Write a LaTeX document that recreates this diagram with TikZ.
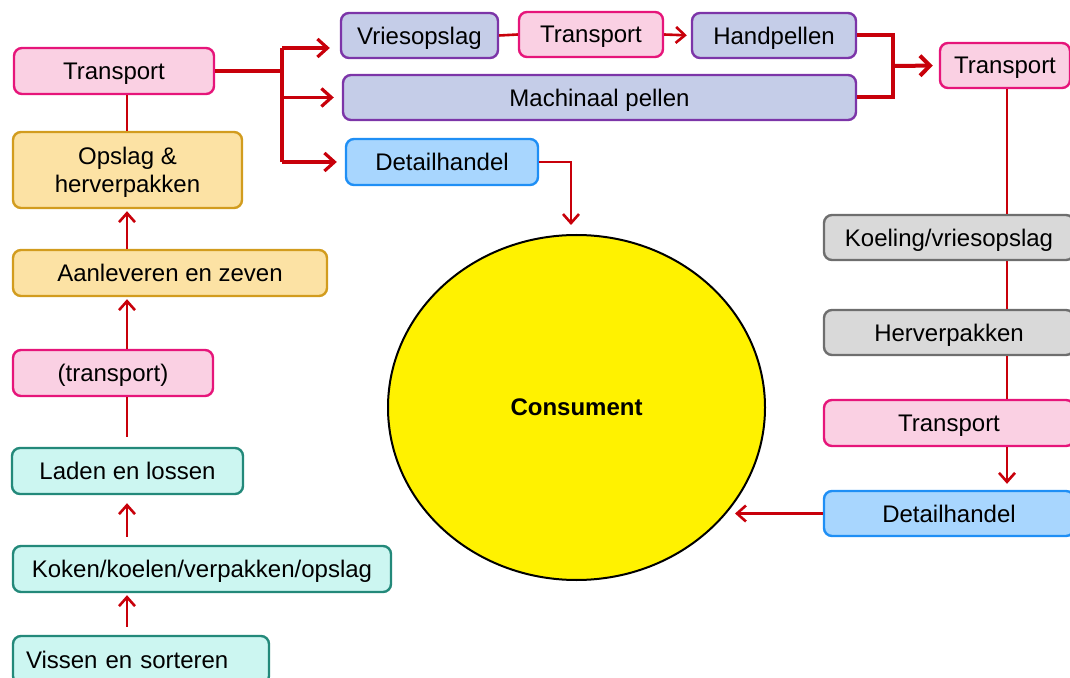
\documentclass[tikz,border=0pt]{standalone}
\usepackage{fontspec}
\setmainfont{Liberation Sans}
\usetikzlibrary{arrows.meta,shapes.geometric}
\definecolor{pinkF}{HTML}{FAD0E3}
\definecolor{pinkB}{HTML}{E6157A}
\definecolor{orF}{HTML}{FCE2A4}
\definecolor{orB}{HTML}{D29C1E}
\definecolor{lavF}{HTML}{C5CDE8}
\definecolor{lavB}{HTML}{7C35A8}
\definecolor{bluF}{HTML}{A8D6FE}
\definecolor{bluB}{HTML}{1F8FF5}
\definecolor{grF}{HTML}{D9D9D9}
\definecolor{grB}{HTML}{6E6E6E}
\definecolor{tlF}{HTML}{CCF6F1}
\definecolor{tlB}{HTML}{23897A}
\definecolor{arrowred}{HTML}{C8000A}
\begin{document}
\begin{tikzpicture}[x=0.5pt,y=-0.5pt,
  font=\fontsize{12}{14}\selectfont,
  box/.style={draw, rounded corners=4pt, line width=1.2pt, inner sep=0pt, align=center, minimum height=23pt, text depth=0pt},
  pinkbox/.style={box, draw=pinkB, fill=pinkF},
  orbox/.style={box, draw=orB, fill=orF},
  lavbox/.style={box, draw=lavB, fill=lavF},
  blubox/.style={box, draw=bluB, fill=bluF},
  grbox/.style={box, draw=grB, fill=grF},
  tlbox/.style={box, draw=tlB, fill=tlF},
  conn/.style={draw=arrowred, line width=1.3pt},
  arr/.style={conn, -{Straight Barb[length=4.5pt,width=8pt]}},
  thickconn/.style={draw=arrowred, line width=2pt},
  arr2/.style={draw=arrowred, line width=1.6pt, -{Straight Barb[length=5pt,width=9pt]}},
  thickarr/.style={thickconn, -{Straight Barb[length=5pt,width=10pt]}}
]
\useasboundingbox (0,0) rectangle (1070,678);
\clip (0,0) rectangle (1070,678);

% left column
\node[pinkbox, minimum width=100pt] (tL) at (114,71) {Transport};
\node[orbox, minimum width=114.5pt, minimum height=38pt] (opslag) at (127.5,170) {Opslag \&\\herverpakken};
\node[orbox, minimum width=157pt] (aanl) at (170,273) {Aanleveren en zeven};
\node[pinkbox, minimum width=100pt] (trsp) at (113,373) {(transport)};
\node[tlbox, minimum width=115.5pt] (laden) at (127.5,471) {Laden en lossen};
\node[tlbox, minimum width=189pt] (koken) at (202,569) {Koken/koelen/verpakken/opslag};
\node[tlbox, minimum width=128pt, minimum height=24pt, text width=115pt, align=left] (vissen) at (141,660) {Vissen en sorteren};

% top row
\node[lavbox, minimum width=78.5pt, minimum height=22.5pt] (vries) at (419.5,35.5) {Vriesopslag};
\node[pinkbox, minimum width=72pt, minimum height=22.5pt] (tM) at (591,34.5) {Transport};
\node[lavbox, minimum width=82pt, minimum height=22.5pt] (hand) at (774,35.5) {Handpellen};
\node[lavbox, minimum width=256.5pt, minimum height=22.5pt] (mach) at (599.5,97.5) {Machinaal pellen};
\node[blubox, minimum width=96pt] (det1) at (442,162) {Detailhandel};
\node[pinkbox, minimum width=65pt, minimum height=22.5pt] (tR) at (1005,65.5) {Transport};

% right column
\node[grbox, minimum width=125pt, minimum height=22.5pt] (koel) at (949,237.5) {Koeling/vriesopslag};
\node[grbox, minimum width=125pt, minimum height=22.5pt] (herv) at (949,332.5) {Herverpakken};
\node[pinkbox, minimum width=125pt] (tR2) at (949,423) {Transport};
\node[blubox, minimum width=125pt, minimum height=22.5pt] (det2) at (949,513.5) {Detailhandel};

% consumer
\node[ellipse, draw=black, line width=1pt, fill=yellow, minimum width=188.5pt, minimum height=172.5pt, inner sep=0pt, text depth=0pt, font=\fontsize{12}{14}\selectfont\bfseries] (cons) at (576.5,407.5) {Consument};

% left column connectors
\coordinate (colx) at (127,0);
\draw[conn] (colx |- tL.south) -- (colx |- opslag.north);
\draw[arr, shorten >=1pt] (colx |- aanl.north) -- (colx |- opslag.south);
\draw[arr, shorten >=1pt] (colx |- trsp.north) -- (colx |- aanl.south);
\draw[conn, shorten <=5pt] (colx |- laden.north) -- (colx |- trsp.south);
\draw[arr, shorten <=4pt, shorten >=4pt] (colx |- koken.north) -- (colx |- laden.south);
\draw[arr, shorten <=4pt, shorten >=1pt] (colx |- vissen.north) -- (colx |- koken.south);

% top connectors
\coordinate (split) at (282,71);
\coordinate (br1) at ([yshift=-6.25pt]vries.west);
\draw[thickconn] (tL.east) -- (split);
\draw[draw=arrowred, line width=1.6pt] (split |- br1) -- (split |- det1.west);
\draw[arr2, shorten >=5pt] (split |- br1) -- (br1);
\draw[arr2, shorten >=4pt] (split |- mach.west) -- (mach.west);
\draw[arr2, shorten >=4pt] (split |- det1.west) -- (det1.west);
\draw[conn] (vries.east) -- (tM.west);
\draw[arr, shorten >=2pt] (tM.east) -- (hand.west);
\coordinate (join) at (893,66);
\draw[thickconn] (hand.east) -| (join) |- (mach.east);
\draw[thickarr, shorten >=3pt] (join) -- (tR.west);
\coordinate (c1) at (571,225);
\draw[arr] (det1.east) -| (c1);

% right connectors
\coordinate (rx) at (1007,0);
\draw[conn] (rx |- tR.south) -- (rx |- koel.north);
\draw[conn] (rx |- koel.south) -- (rx |- herv.north);
\draw[conn] (rx |- herv.south) -- (rx |- tR2.north);
\draw[arr, shorten >=3pt] (rx |- tR2.south) -- (rx |- det2.north);
\coordinate (c2) at (735,513.5);
\draw[arr] (det2.west) -- (c2);
\end{tikzpicture}
\end{document}
